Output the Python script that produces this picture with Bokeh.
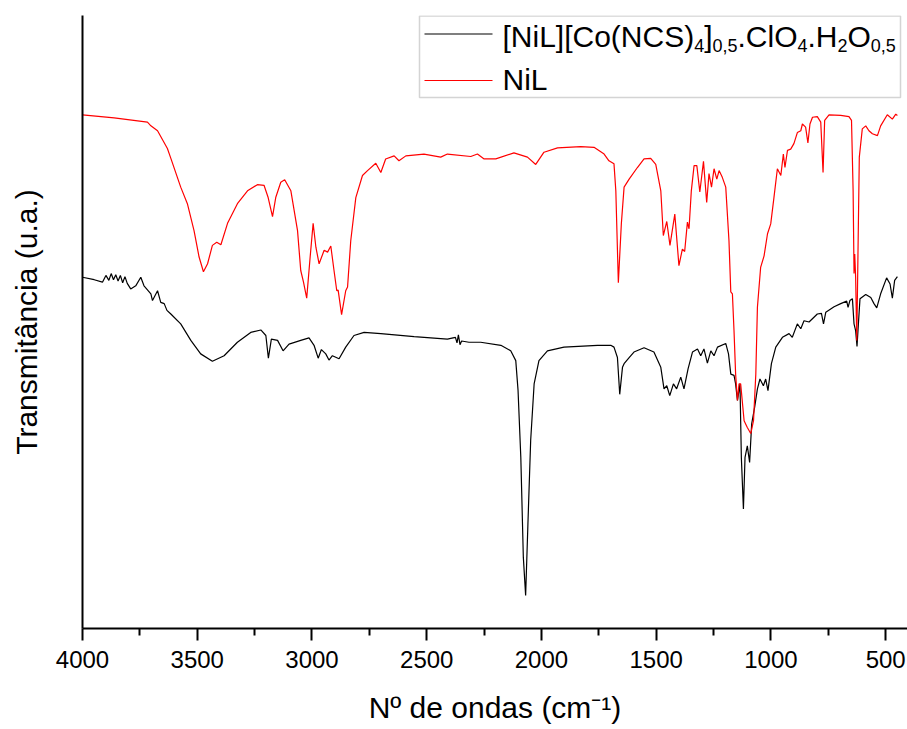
from bokeh.plotting import figure
from bokeh.models import Range1d, FixedTicker, BoxAnnotation, Label
from bokeh.embed import file_html
from bokeh.resources import INLINE

# ---------------- data ----------------
wn_complex = [4000, 3949, 3913, 3898, 3885, 3875, 3865, 3855, 3845, 3835,
              3825, 3815, 3805, 3790, 3768, 3746, 3732, 3702, 3695, 3673,
              3659, 3644, 3632, 3615, 3572, 3528, 3485, 3434, 3383, 3325,
              3267, 3223, 3201, 3190, 3177, 3150, 3126, 3100, 3049, 3013,
              2991, 2973, 2959, 2940, 2926, 2911, 2882, 2853, 2817, 2773,
              2700, 2555, 2410, 2375, 2368, 2362, 2355, 2348, 2316, 2265,
              2177, 2134, 2112, 2102, 2090, 2079, 2069, 2059, 2047, 2032,
              2011, 1974, 1902, 1756, 1698, 1684, 1669, 1659, 1647, 1640,
              1618, 1597, 1553, 1510, 1480, 1466, 1454, 1441, 1425, 1411,
              1393, 1379, 1361, 1342, 1320, 1306, 1292, 1277, 1262, 1248,
              1233, 1197, 1185, 1175, 1161, 1154, 1146, 1135, 1129, 1120,
              1113, 1103, 1093, 1084, 1071, 1059, 1048, 1033, 1023, 1013,
              998, 979, 950, 921, 907, 885, 870, 856, 834, 798,
              780, 771, 761, 725, 696, 670, 664, 656, 645, 638,
              631, 625, 619, 612, 587, 565, 551, 539, 522, 496,
              481, 471, 461, 449]
t_complex = [57.3, 56.9, 56.5, 57.6, 56.8, 57.9, 56.9, 57.7, 56.7, 57.6,
             56.4, 57.4, 56.3, 55.4, 55.9, 57.3, 55.9, 54.6, 53.5, 55.1,
             53.2, 53.0, 51.9, 51.3, 49.7, 47.0, 44.8, 43.6, 44.5, 46.7,
             48.3, 48.7, 47.8, 44.1, 47.2, 47.0, 45.3, 46.4, 47.0, 47.4,
             46.2, 44.1, 45.5, 44.8, 43.8, 44.5, 44.0, 45.9, 47.8, 48.3,
             48.1, 47.6, 47.2, 47.5, 46.6, 47.9, 46.3, 46.9, 46.7, 46.7,
             46.2, 45.3, 43.7, 38.8, 27.9, 11.6, 5.4, 17.1, 30.7, 39.9,
             43.7, 45.3, 45.9, 46.2, 46.2, 45.9, 44.2, 38.2, 42.6, 43.2,
             44.2, 45.1, 45.8, 45.1, 42.6, 39.1, 39.6, 38.0, 39.9, 39.1,
             41.0, 39.1, 42.4, 45.1, 45.6, 44.5, 45.6, 43.3, 45.3, 44.5,
             45.9, 46.5, 44.8, 41.5, 41.3, 39.9, 37.2, 39.9, 27.9, 19.5,
             27.9, 29.8, 27.1, 33.4, 36.1, 39.1, 40.7, 39.6, 40.7, 38.8,
             43.2, 45.9, 47.5, 48.1, 47.5, 49.7, 48.9, 50.2, 50.0, 51.3,
             51.4, 49.7, 51.6, 52.5, 53.0, 53.4, 52.4, 53.5, 53.8, 49.7,
             48.6, 46.0, 49.7, 53.8, 54.5, 54.0, 53.0, 52.3, 54.6, 57.2,
             56.2, 53.9, 56.8, 57.4]

wn_nil = [4000, 3862, 3717, 3702, 3673, 3630, 3615, 3572, 3543, 3514,
          3492, 3473, 3455, 3434, 3415, 3397, 3368, 3325, 3281, 3238,
          3209, 3191, 3172, 3158, 3136, 3119, 3092, 3063, 3049, 3037,
          3023, 3008, 2995, 2983, 2969, 2947, 2932, 2918, 2904, 2892,
          2886, 2871, 2853, 2845, 2831, 2809, 2780, 2758, 2722, 2700,
          2679, 2642, 2621, 2591, 2512, 2439, 2410, 2308, 2279, 2250,
          2199, 2120, 2061, 2025, 1989, 1930, 1829, 1771, 1727, 1706,
          1684, 1676, 1665, 1652, 1640, 1618, 1582, 1553, 1524, 1502,
          1480, 1469, 1454, 1440, 1419, 1401, 1386, 1376, 1364, 1357,
          1347, 1335, 1323, 1310, 1294, 1280, 1270, 1259, 1248, 1236,
          1226, 1212, 1197, 1183, 1175, 1168, 1161, 1154, 1146, 1139,
          1132, 1117, 1103, 1088, 1076, 1066, 1059, 1045, 1030, 1015,
          1001, 987, 972, 957, 946, 939, 928, 914, 900, 885,
          870, 863, 849, 839, 830, 819, 798, 783, 773, 766,
          747, 696, 660, 649, 642, 638, 635, 631, 626, 621,
          615, 602, 587, 573, 558, 536, 522, 493, 471, 456,
          449]
t_nil = [83.8, 83.3, 82.6, 82.0, 81.2, 78.3, 76.7, 72.0, 69.3, 64.9,
         60.6, 58.2, 59.5, 62.5, 63.0, 62.6, 66.1, 69.3, 71.4, 72.4,
         72.3, 70.3, 67.2, 70.3, 72.8, 73.2, 71.4, 64.9, 58.4, 56.5,
         53.9, 60.6, 66.1, 62.2, 59.5, 61.7, 61.4, 62.4, 58.4, 55.1,
         55.2, 51.2, 55.1, 55.7, 63.3, 70.3, 73.9, 74.7, 75.9, 74.4,
         76.6, 77.1, 76.3, 77.1, 77.4, 76.9, 77.4, 77.0, 77.4, 76.6,
         76.6, 77.6, 76.9, 75.7, 77.7, 78.4, 78.6, 78.5, 77.4, 76.3,
         75.8, 71.4, 56.4, 66.0, 72.0, 73.3, 75.2, 76.6, 76.7, 75.7,
         71.4, 64.1, 66.4, 62.5, 67.6, 59.2, 61.9, 61.5, 66.3, 65.2,
         71.4, 75.5, 75.5, 71.2, 76.2, 69.5, 74.2, 72.0, 75.0, 73.3,
         74.7, 73.6, 72.0, 63.3, 54.9, 54.6, 48.6, 41.5, 37.2, 39.9,
         39.9, 33.9, 32.8, 31.8, 33.9, 41.5, 52.4, 58.9, 60.8, 64.4,
         66.0, 70.3, 75.0, 73.9, 77.4, 75.2, 78.0, 78.2, 79.1, 80.9,
         81.2, 82.3, 81.8, 79.2, 82.3, 83.4, 83.5, 82.6, 74.4, 82.9,
         83.8, 83.7, 83.5, 82.9, 71.4, 57.9, 61.1, 57.3, 47.0, 60.6,
         76.9, 81.5, 82.0, 81.2, 80.7, 80.4, 82.0, 83.8, 83.1, 83.9,
         83.7]

x_ticks = [4000, 3500, 3000, 2500, 2000, 1500, 1000, 500]
x_minor_ticks = [3750, 3250, 2750, 2250, 1750, 1250, 750]

# legend text pieces: (text, is_subscript)
legend_complex_parts = [("[NiL][Co(NCS)", False), ("4", True), ("]", False),
                        ("0,5", True), (".ClO", False), ("4", True),
                        (".H", False), ("2", True), ("O", False), ("0,5", True)]
legend_nil_text = "NiL"

x_title = "Nº de ondas (cm⁻¹)"
y_title = "Transmitância (u.a.)"

# ---------------- layout ----------------
W, H = 907, 729
FL, FT, FB, FR = 82, 15, 101, 0
X0, X1 = 4000, 405
Y0, Y1 = 0, 100
FONT = "Liberation Sans"

p = figure(width=W, height=H, x_range=Range1d(X0, X1), y_range=Range1d(Y0, Y1),
           output_backend="svg", toolbar_location=None,
           min_border_left=FL, min_border_right=FR, min_border_top=FT,
           min_border_bottom=FB)
p.outline_line_color = None
p.xgrid.grid_line_color = None
p.ygrid.grid_line_color = None
p.background_fill_color = "white"
p.border_fill_color = "white"

xa = p.xaxis[0]
xa.ticker = FixedTicker(ticks=x_ticks, minor_ticks=x_minor_ticks)
xa.axis_line_width = 2
xa.axis_line_color = "black"
xa.major_tick_line_width = 2
xa.minor_tick_line_width = 2
xa.major_tick_out = 12
xa.major_tick_in = 0
xa.minor_tick_out = 7
xa.minor_tick_in = 0
xa.major_label_text_font = FONT
xa.major_label_text_font_size = "24px"
xa.major_label_text_color = "black"
xa.major_label_standoff = 10
xa.axis_label = x_title
xa.axis_label_text_font = FONT
xa.axis_label_text_font_size = "30px"
xa.axis_label_text_font_style = "normal"
xa.axis_label_text_color = "black"
xa.axis_label_standoff = 20

ya = p.yaxis[0]
ya.ticker = FixedTicker(ticks=[])
ya.axis_line_width = 2
ya.axis_line_color = "black"
ya.major_tick_out = 0
ya.major_tick_in = 0
ya.minor_tick_out = 0
ya.minor_tick_in = 0
ya.axis_label = y_title
ya.axis_label_text_font = FONT
ya.axis_label_text_font_size = "30px"
ya.axis_label_text_font_style = "normal"
ya.axis_label_text_color = "black"
ya.axis_label_standoff = 40

p.line(wn_complex, t_complex, line_color="black", line_width=1.2)
p.line(wn_nil, t_nil, line_color="#ff0000", line_width=1.2)

# helpers: canvas pixel -> data coordinate (for legend placement only)
FW = W - FL - FR
FH = H - FT - FB
def cx(px):
    return X0 + (px - FL) * (X1 - X0) / FW
def cy(py):
    return Y1 - (py - FT) * (Y1 - Y0) / FH

# legend frame
p.add_layout(BoxAnnotation(left=cx(419), right=cx(900), top=cy(15.5), bottom=cy(97),
                           fill_color="white", fill_alpha=1.0,
                           line_color="#707070", line_width=1.5, level="overlay"))
# legend line samples
for yy, col in [(33.5, "black"), (80, "#ff0000")]:
    p.add_layout(BoxAnnotation(left=cx(424), right=cx(492), top=cy(yy - 0.6),
                               bottom=cy(yy + 0.6), fill_color=col, fill_alpha=1.0,
                               line_color=None, level="overlay"))

# legend texts
x_pos = [502, 693.7, 703.7, 712, 737, 797, 807, 837, 847, 870.3]
for (txt, sub), xp in zip(legend_complex_parts, x_pos):
    p.add_layout(Label(x=cx(xp), y=cy(45 if sub else 35.5), text=txt,
                       text_font=FONT, text_font_size="18px" if sub else "30px",
                       text_color="black", text_baseline="alphabetic",
                       text_align="left", level="overlay"))
p.add_layout(Label(x=cx(502), y=cy(79), text=legend_nil_text, text_font=FONT,
                   text_font_size="30px", text_color="black",
                   text_baseline="alphabetic", text_align="left", level="overlay"))

open("out.html", "w").write(file_html(p, INLINE))
